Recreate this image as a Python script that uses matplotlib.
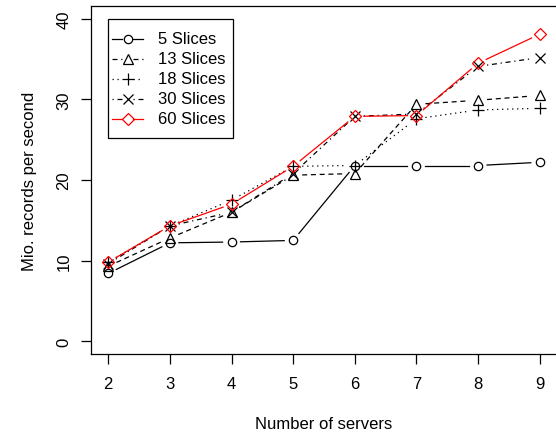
import matplotlib
matplotlib.use("Agg")
import numpy as np
import matplotlib.pyplot as plt
from matplotlib.lines import Line2D
from matplotlib.patches import Rectangle

plt.rcParams['font.family'] = ['Liberation Sans', 'DejaVu Sans']

servers = [2, 3, 4, 5, 6, 7, 8, 9]
s5 = [8.4, 12.2, 12.3, 12.5, 21.8, 21.8, 21.8, 22.2]
s13 = [9.3, 12.8, 16.0, 20.6, 20.8, 29.4, 29.9, 30.5]
s18 = [9.8, 14.3, 17.5, 21.7, 21.8, 27.6, 28.7, 28.9]
s30 = [9.6, 14.3, 16.0, 20.8, 27.9, 28.2, 34.1, 35.2]
s60 = [9.8, 14.3, 17.0, 21.7, 27.9, 28.0, 34.5, 38.1]
labels = ["5 Slices", "13 Slices", "18 Slices", "30 Slices", "60 Slices"]
xticks = [2, 3, 4, 5, 6, 7, 8, 9]
yticks = [0, 10, 20, 30, 40]

series = [s5, s13, s18, s30, s60]
markers = ['o', '^', '+', 'x', 'D']
styles = ['-', (0, (4, 3)), (0, (1, 3)), (0, (1, 3, 4, 3)), '-']
colors = ['black', 'black', 'black', 'black', 'red']
msizes = [6, 7.5, 8.5, 7, 6.5]
LW = 0.9
GAP = 9.0   # pixels of gap around each marker (R type="b")
LGAP = 5.5  # gap in the legend samples

W, H = 556, 435
fig = plt.figure(figsize=(W/100, H/100), dpi=100)
ax = fig.add_axes([91/W, 1-355/H, 466/W, 348/H])
ax.set_xlim(1.72, 9.28)
ax.set_ylim(-1.6, 41.6)

fig.canvas.draw()
tr = ax.transData
inv = tr.inverted()

for ys, m, ls, c, ms in zip(series, markers, styles, colors, msizes):
    pts = tr.transform(np.column_stack([servers, ys]))
    for p0, p1 in zip(pts[:-1], pts[1:]):
        d = p1 - p0
        L = np.hypot(*d)
        if L <= 2 * GAP:
            continue
        u = d / L
        a = inv.transform(p0 + u * GAP)
        b = inv.transform(p1 - u * GAP)
        ax.plot([a[0], b[0]], [a[1], b[1]], linestyle=ls, color=c, lw=LW)
    ax.plot(servers, ys, linestyle='none', marker=m, markersize=ms,
            markerfacecolor='none', markeredgecolor=c, markeredgewidth=LW)

ax.set_xticks(xticks)
ax.set_yticks(yticks)
ax.set_yticklabels([str(v) for v in yticks], rotation=90, va='center')
ax.tick_params(direction='out', length=7, width=LW, labelsize=12, pad=7)
ax.tick_params(axis='x', pad=9)
for sp in ax.spines.values():
    sp.set_linewidth(LW)
ax.set_xlabel("Number of servers", fontsize=12, labelpad=18)
ax.set_ylabel("Mio. records per second", fontsize=12, labelpad=14)

# Manual R-style legend (figure pixel coordinates, origin top-left)
def fx(px):
    return px / W

def fy(py):
    return 1 - py / H

fig.add_artist(Rectangle((fx(108), fy(139)), (233-108)/W, (139-20)/H,
                         transform=fig.transFigure, fill=False,
                         edgecolor='black', lw=LW))
for i, (lab, m, ls, c, ms) in enumerate(zip(labels, markers, styles, colors, msizes)):
    yy = 40 + 20 * i
    xc = 127.5
    fig.add_artist(Line2D([fx(112), fx(xc - LGAP)], [fy(yy), fy(yy)],
                          transform=fig.transFigure, linestyle=ls, color=c, lw=LW))
    fig.add_artist(Line2D([fx(xc + LGAP), fx(143)], [fy(yy), fy(yy)],
                          transform=fig.transFigure, linestyle=ls, color=c, lw=LW))
    fig.add_artist(Line2D([fx(xc)], [fy(yy)], transform=fig.transFigure,
                          linestyle='none', marker=m, markersize=ms,
                          markerfacecolor='none', markeredgecolor=c,
                          markeredgewidth=LW))
    fig.text(fx(158), fy(yy), lab, fontsize=12, va='center', ha='left')

fig.savefig("out.png", dpi=100)
